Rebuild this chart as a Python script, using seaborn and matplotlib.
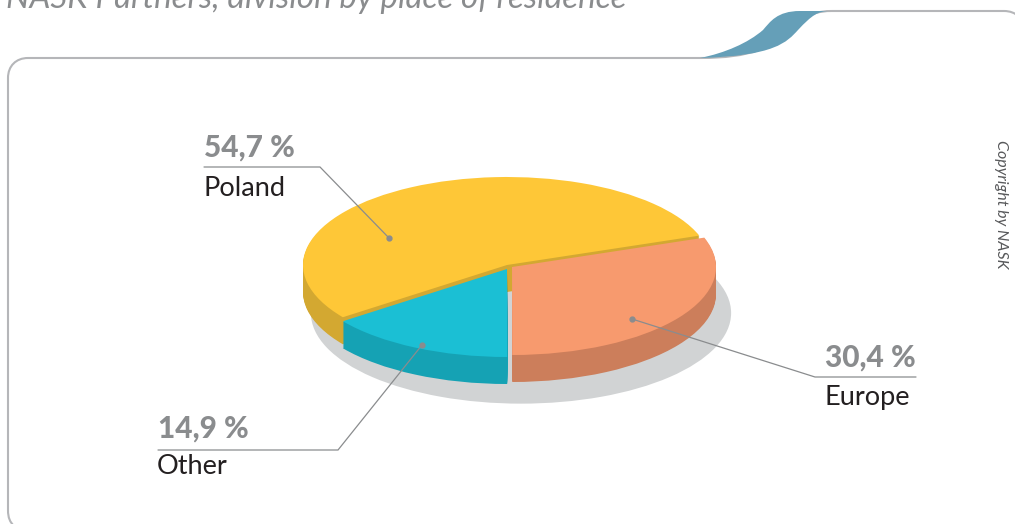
import matplotlib
matplotlib.use('Agg')
import matplotlib.pyplot as plt
import seaborn as sns
from matplotlib.path import Path
from matplotlib.patches import PathPatch, Rectangle

# share of partners, order goes counter clockwise from the Poland/Europe cut
regions = ['Poland', 'Other', 'Europe']
shares = [54.7, 14.9, 30.4]
share_labels = ['54,7 %', '14,9 %', '30,4 %']
top_colors = ['#fec737', '#1bbfd4', '#f79a6e']
side_colors = ['#d3a831', '#15a2b4', '#cc7e5b']
shadow_color = '#d1d3d4'
frame_color = '#b5b6b9'

title = 'NASK Partners, division by place of residence'
copyright_note = 'Copyright by NASK'

W, H = 1015, 524
CX, CY, RX, RY = 507, 265, 204, 88
DEPTH = 27

sns.set_theme(style='white')
plt.rcParams['font.family'] = ['Lato', 'DejaVu Sans']

fig = plt.figure(figsize=(W / 100, H / 100), dpi=100)
fig.patch.set_facecolor('white')
ax_pie = fig.add_axes([0, 0, 1, 1])
ax = fig.add_axes([0, 0, 1, 1], facecolor='none')


def unit_center(px, py):
    return (px - CX) / RX, (CY - py) / RY


def draw_slice(k, px, py, color, clip_left=None):
    cols = [color if i == k else 'none' for i in range(len(shares))]
    wedges, _ = ax_pie.pie(shares, colors=cols, startangle=19.5, counterclock=True,
                           center=unit_center(px, py), wedgeprops={'linewidth': 0})
    if clip_left is not None:
        x0 = (clip_left - CX) / RX
        box = Rectangle((x0, -5), 10, 10, transform=ax_pie.transData)
        wedges[k].set_clip_path(box)


# shadow under the pie, one whole disc so there is no seam
ax_pie.pie([sum(shares)], colors=[shadow_color], center=unit_center(521, 313),
           radius=1.03, wedgeprops={'linewidth': 0})

# each slice has its own centre, they are pulled apart a little
slice_centers = [(507, 265), (507, 269), (512, 267)]
clips = [None, 347, None]
for k in range(len(shares)):
    px, py = slice_centers[k]
    for d in range(DEPTH, 0, -1):
        draw_slice(k, px, py + d, side_colors[k], clip_left=clips[k])
    draw_slice(k, px, py, top_colors[k], clip_left=clips[k])

ax_pie.set_aspect('auto')
ax_pie.set_xlim(-CX / RX, (W - CX) / RX)
ax_pie.set_ylim((CY - H) / RY, CY / RY)
ax_pie.axis('off')

ax.set_xlim(0, W)
ax.set_ylim(H, 0)
ax.axis('off')

# frame with the step in the top edge
frame = Path(
    [(14, 526), (10, 522), (8, 518), (8, 510), (8, 78), (8, 66), (16, 58), (28, 58), (700, 58),
     (750, 58), (775, 48), (797, 25), (808, 14), (818, 11), (832, 11), (1004, 11), (1010, 11),
     (1015, 13), (1018, 16)],
    [Path.MOVETO, Path.CURVE4, Path.CURVE4, Path.CURVE4, Path.LINETO, Path.CURVE4, Path.CURVE4,
     Path.CURVE4, Path.LINETO, Path.CURVE4, Path.CURVE4, Path.CURVE4, Path.CURVE4, Path.CURVE4,
     Path.CURVE4, Path.LINETO, Path.CURVE4, Path.CURVE4, Path.CURVE4])
ax.add_patch(PathPatch(frame, fill=False, edgecolor=frame_color, lw=1.5, clip_on=False))

swoosh = Path(
    [(700, 58), (725, 53), (748, 43), (763, 30), (770, 22), (777, 11), (800, 11), (830, 11),
     (818, 11), (812, 15), (798, 30), (787, 42), (775, 56), (700, 58)],
    [Path.MOVETO, Path.CURVE4, Path.CURVE4, Path.CURVE4, Path.CURVE4, Path.CURVE4, Path.CURVE4,
     Path.LINETO, Path.CURVE4, Path.CURVE4, Path.CURVE4, Path.CURVE4, Path.CURVE4, Path.CURVE4])
ax.add_patch(PathPatch(swoosh, facecolor='#659fb8', edgecolor='none'))

ax.text(6, 8, title, fontsize=23.9, style='italic', color='#8a8c8e', va='baseline', clip_on=False)
ax.text(1001, 204, copyright_note, fontsize=11.5, style='italic', color='#58595b', rotation=270,
        ha='center', va='center')

# leader lines: x, y of the elbow path, ending in the dot on the slice
leaders = {
    'Poland': ([204, 320, 389], [167, 167, 238]),
    'Europe': ([916, 815, 632], [377, 377, 319]),
    'Other': ([158, 338, 422], [450, 450, 345]),
}
for xs, ys in leaders.values():
    ax.plot(xs, ys, color='#8a8c8e', lw=0.9, solid_joinstyle='miter')
    ax.plot(xs[-1], ys[-1], 'o', color='#8a8c8e', ms=3.5)

# text anchors for the value and the name
anchors = {
    'Poland': (204, 157, 204, 196),
    'Europe': (825, 367, 825, 405),
    'Other': (158, 438, 157, 474),
}
for name, lab in zip(regions, share_labels):
    vx, vy, nx, ny = anchors[name]
    ax.text(vx, vy, lab, fontsize=21.5, fontweight=900, color='#8a8c8e', va='baseline')
    ax.text(nx, ny, name, fontsize=19.5, color='#231f20', va='baseline')

fig.savefig('out.png', dpi=100)
